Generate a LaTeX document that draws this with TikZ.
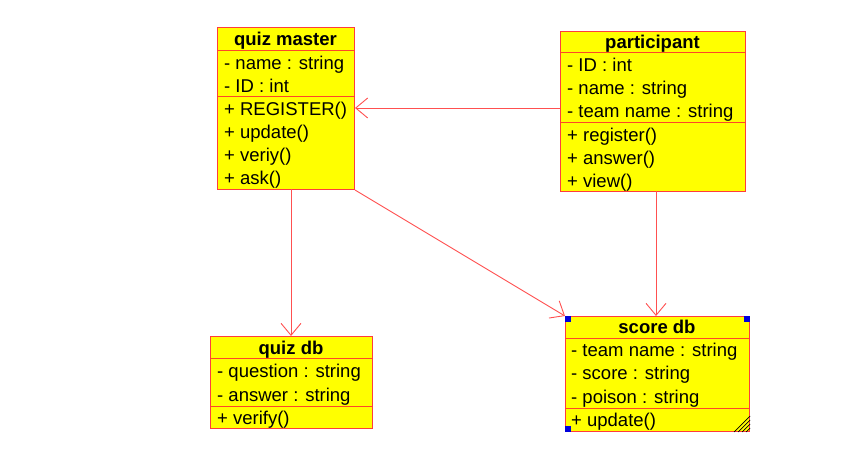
\documentclass[tikz,border=0pt]{standalone}
\usepackage{fontspec}
\setmainfont{Liberation Sans}
\usetikzlibrary{arrows.meta}
\definecolor{boxfill}{RGB}{255,255,0}
\definecolor{boxline}{RGB}{255,60,60}
\definecolor{sepline}{RGB}{255,70,40}
\definecolor{linkline}{RGB}{255,80,80}
\definecolor{handle}{RGB}{0,0,220}
\tikzset{
  classbox/.style={draw=boxline, fill=boxfill, line width=1bp, anchor=north west, inner sep=0pt},
  sep/.style={draw=sepline, line width=1bp},
  title/.style={font=\fontsize{18.5bp}{22bp}\selectfont\bfseries, anchor=base, inner sep=0pt},
  member/.style={font=\fontsize{18.5bp}{22bp}\selectfont, anchor=base west, inner sep=0pt},
  link/.style={draw=linkline, line width=0.9bp, -{Straight Barb[length=12bp,width=20bp,line width=0.9bp]}},
  grip/.style={fill=handle, minimum size=6bp, inner sep=0pt},
}
\begin{document}
\begin{tikzpicture}[x=1bp,y=-1bp]
\useasboundingbox[fill=white] (0,0) rectangle (865,471);

% quiz master
\node[classbox, minimum width=137bp, minimum height=162bp] (qm) at (217,27) {};
\draw[sep] (217,51) -- (354,51);
\draw[sep] (217,97) -- (354,97);
\node[title] (qmt) at (285.5,46) {quiz master};
\node[member] (qm1) at (224,70) {- name : string};
\node[member] (qm2) at (224,93) {- ID : int};
\node[member] (qm3) at (224,116) {+ REGISTER()};
\node[member] (qm4) at (224,139) {+ update()};
\node[member] (qm5) at (224,162) {+ veriy()};
\node[member] (qm6) at (224,185) {+ ask()};

% participant
\node[classbox, minimum width=185bp, minimum height=160bp] (pa) at (560,31) {};
\draw[sep] (560,53) -- (745,53);
\draw[sep] (560,123) -- (745,123);
\node[title] (pat) at (652.5,49) {participant};
\node[member] (pa1) at (567,72) {- ID : int};
\node[member] (pa2) at (567,95) {- name : string};
\node[member] (pa3) at (567,118) {- team name : string};
\node[member] (pa4) at (567,142) {+ register()};
\node[member] (pa5) at (567,165) {+ answer()};
\node[member] (pa6) at (567,188) {+ view()};

% quiz db
\node[classbox, minimum width=162bp, minimum height=92bp] (qd) at (210,336) {};
\draw[sep] (210,359) -- (372,359);
\draw[sep] (210,406) -- (372,406);
\node[title] (qdt) at (291,355) {quiz db};
\node[member] (qd1) at (217,378) {- question : string};
\node[member] (qd2) at (217,401) {- answer : string};
\node[member] (qd3) at (217,424) {+ verify()};

% score db
\node[classbox, minimum width=184bp, minimum height=115bp] (sd) at (565,316) {};
\draw[sep] (565,339) -- (749,339);
\draw[sep] (565,408) -- (749,408);
\node[title] (sdt) at (657,334) {score db};
\node[member] (sd1) at (571,357) {- team name : string};
\node[member] (sd2) at (571,380) {- score : string};
\node[member] (sd3) at (571,403) {- poison : string};
\node[member] (sd4) at (571,426) {+ update()};

% selection handles and resize grip on score db
\node[grip, anchor=north west] (h1) at (sd.north west) {};
\node[grip, anchor=north east] (h2) at (sd.north east) {};
\node[grip, anchor=south west] (h3) at (sd.south west) {};
\draw[black, line width=0.7bp] (sd.south east) ++(-4,0) -- ++(4,-4)
  (sd.south east) ++(-8,0) -- ++(8,-8)
  (sd.south east) ++(-12,0) -- ++(12,-12)
  (sd.south east) ++(-16,0) -- ++(16,-16);

% associations
\coordinate (paL) at (pa.west |- 0,108);
\coordinate (qmR) at (qm.east |- 0,108);
\draw[link] (paL) -- (qmR);
\coordinate (qmB) at (291,189);
\coordinate (qdT) at (291,336);
\draw[link] (qmB) -- (qdT);
\draw[link] (qm.south east) -- (sd.north west);
\coordinate (paB) at (656,191);
\coordinate (sdT) at (656,316);
\draw[link] (paB) -- (sdT);
\end{tikzpicture}
\end{document}
